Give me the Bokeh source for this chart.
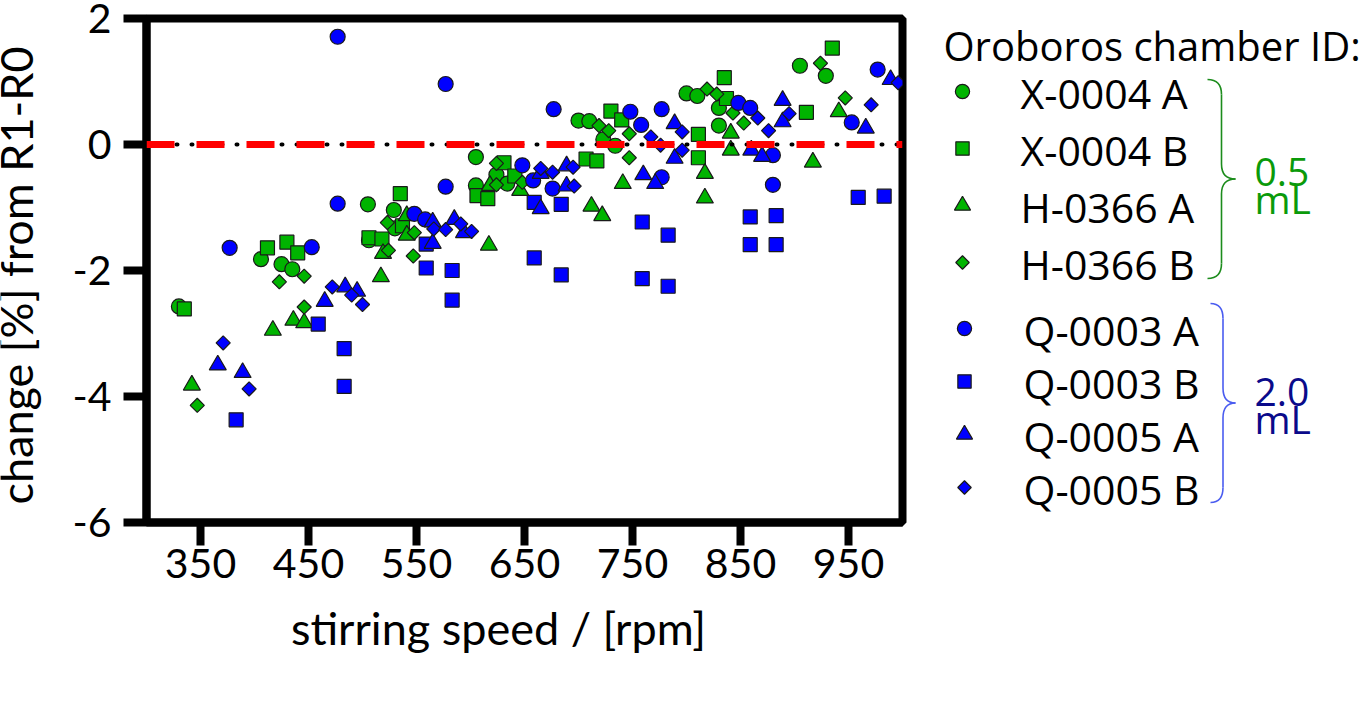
import numpy as np
from bokeh.plotting import figure
from bokeh.models import Range1d, FixedTicker, Span
from bokeh.layouts import row, column
from bokeh.core.properties import value
from bokeh.embed import file_html
from bokeh.resources import INLINE

# 0.5 mL chambers
x0004a_rpm = [330, 406, 425, 435, 505, 506, 529, 530, 605, 605, 624, 634, 700, 710, 723, 734, 800, 810, 830, 830, 905, 929]
x0004a_chg = [-2.57, -1.82, -1.90, -1.98, -0.95, -1.52, -1.04, -1.33, -0.20, -0.65, -0.48, -0.62, 0.38, 0.37, 0.08, -0.02, 0.81, 0.77, 0.58, 0.30, 1.25, 1.09]

x0004b_rpm = [335, 412, 430, 440, 506, 518, 535, 537, 606, 616, 631, 641, 707, 717, 730, 740, 811, 811, 835, 837, 911, 935]
x0004b_chg = [-2.61, -1.64, -1.55, -1.72, -1.48, -1.50, -0.78, -1.29, -0.81, -0.86, -0.29, -0.50, -0.23, -0.26, 0.53, 0.39, 0.16, -0.21, 1.06, 0.73, 0.51, 1.53]

h0366a_rpm = [342, 417, 436, 446, 517, 519, 541, 541, 617, 618, 646, 712, 722, 741, 817, 817, 841, 841, 917, 941]
h0366a_chg = [-3.82, -2.95, -2.79, -2.83, -2.10, -1.73, -1.13, -1.44, -1.60, -0.65, -0.73, -0.98, -1.13, -0.62, -0.46, -0.85, 0.18, -0.09, -0.28, 0.52]

h0366b_rpm = [347, 423, 446, 446, 523, 524, 547, 548, 624, 624, 648, 719, 728, 747, 747, 819, 828, 843, 853, 924, 947]
h0366b_chg = [-4.14, -2.18, -2.09, -2.58, -1.24, -1.68, -1.77, -1.40, -0.30, -0.64, -0.60, 0.30, 0.22, 0.17, -0.21, 0.88, 0.80, 0.50, 0.34, 1.29, 0.74]

# 2.0 mL chambers
q0003a_rpm = [377, 453, 477, 477, 548, 558, 577, 577, 648, 658, 677, 676, 748, 758, 777, 777, 848, 859, 880, 880, 953, 977]
q0003a_chg = [-1.64, -1.63, 1.71, -0.94, -1.10, -1.19, 0.96, -0.67, -0.33, -0.57, 0.56, -0.70, 0.52, 0.31, 0.56, -0.52, 0.66, 0.58, -0.17, -0.64, 0.35, 1.19]

q0003b_rpm = [383, 459, 483, 483, 559, 559, 583, 583, 659, 659, 684, 684, 759, 759, 783, 783, 859, 859, 883, 883, 959, 983]
q0003b_chg = [-4.37, -2.85, -3.24, -3.84, -1.58, -1.96, -2.00, -2.47, -0.92, -1.80, -0.95, -2.07, -1.23, -2.13, -1.44, -2.25, -1.15, -1.59, -1.13, -1.59, -0.84, -0.82]

q0005a_rpm = [366, 389, 465, 484, 495, 565, 565, 585, 594, 665, 665, 689, 689, 760, 771, 789, 789, 860, 870, 889, 889, 966, 989]
q0005a_chg = [-3.50, -3.62, -2.49, -2.26, -2.33, -1.23, -1.57, -1.19, -1.40, -0.46, -1.02, -0.34, -0.66, -0.48, -0.62, 0.33, -0.22, -0.09, -0.19, 0.70, 0.36, 0.26, 1.03]

q0005b_rpm = [371, 395, 472, 490, 500, 566, 577, 591, 601, 665, 676, 695, 696, 767, 776, 796, 796, 866, 876, 895, 971, 996]
q0005b_chg = [-3.15, -3.88, -2.26, -2.39, -2.54, -1.34, -1.35, -1.26, -1.38, -0.38, -0.44, -0.36, -0.66, 0.12, -0.01, 0.20, -0.09, 0.42, 0.22, 0.49, 0.63, 0.98]

labels = ["X-0004 A", "X-0004 B", "H-0366 A", "H-0366 B",
          "Q-0003 A", "Q-0003 B", "Q-0005 A", "Q-0005 B"]
rpms = [x0004a_rpm, x0004b_rpm, h0366a_rpm, h0366b_rpm,
        q0003a_rpm, q0003b_rpm, q0005a_rpm, q0005b_rpm]
chgs = [x0004a_chg, x0004b_chg, h0366a_chg, h0366b_chg,
        q0003a_chg, q0003b_chg, q0005a_chg, q0005b_chg]

x_ticks = [350, 450, 550, 650, 750, 850, 950]
y_ticks = [-6, -4, -2, 0, 2]
volumes = ["0.5", "2.0"]

GREEN = "#00b400"
BLUE = "#0000ff"
colors = [GREEN] * 4 + [BLUE] * 4
# marker, size, angle  (diamond = rotated square)
shapes = [("circle", 15, 0), ("square", 14, 0), ("triangle", 17, 0), ("square", 10, np.pi / 4)] * 2

AX_FONT = "Lato"
LEG_FONT = "Open Sans"
H = 715        # total height
HP = 607       # height of the plot itself, the x title strip sits below it


def blank(width, height):
    f = figure(width=width, height=height, x_range=Range1d(0, width), y_range=Range1d(height, 0),
               output_backend="svg", toolbar_location=None, x_axis_type=None, y_axis_type=None,
               min_border=0, outline_line_color=None)
    f.frame_align = False
    f.grid.visible = False
    return f


# y axis title in its own narrow strip so it can sit far from the tick labels
yl = blank(50, H)
yl.text(x=[15], y=[275], text=["change [%] from R1-R0"], angle=np.pi / 2,
        text_font=value(AX_FONT), text_font_size="45px", text_align="center",
        text_baseline="middle", text_color="black")

p = figure(width=868, height=HP, x_range=Range1d(300, 1000), y_range=Range1d(-6, 2),
           output_backend="svg", toolbar_location=None,
           min_border_left=96, min_border_right=16, min_border_top=18, min_border_bottom=HP - 18 - 504)
p.frame_align = False
p.grid.visible = False
p.outline_line_color = "black"
p.outline_line_width = 8
p.xaxis.ticker = FixedTicker(ticks=x_ticks)
p.yaxis.ticker = FixedTicker(ticks=y_ticks)
p.yaxis.major_label_overrides = {v: str(v) for v in y_ticks}
for ax in p.axis:
    ax.axis_line_width = 8
    ax.axis_line_color = "black"
    ax.major_tick_line_width = 8
    ax.major_tick_in = 0
    ax.major_tick_out = 23
    ax.minor_tick_line_color = None
    ax.major_label_text_font = AX_FONT
    ax.major_label_text_font_size = "41px"
    ax.major_label_text_color = "black"
p.xaxis.major_label_standoff = 3
p.yaxis.major_label_standoff = 12

# zero reference: black dots under red dashes
p.add_layout(Span(location=0, dimension="width", line_color="black", line_width=4,
                  line_dash="1 14", line_cap="round"))
p.add_layout(Span(location=0, dimension="width", line_color="#ff0000", line_width=7,
                  line_dash="28 22"))

for lab, xs, ys, col, (mk, sz, ang) in zip(labels, rpms, chgs, colors, shapes):
    p.scatter(x=xs, y=ys, marker=mk, size=sz, angle=ang, fill_color=col,
              line_color="#1a1a1a", line_width=1.2)

# x axis title strip
xl = blank(868, H - HP)
xl.text(x=[448], y=[627 - HP], text=["stirring speed / [rpm]"], text_font=value(AX_FONT),
        text_font_size="45px", text_align="center", text_baseline="alphabetic",
        text_color="black")

# legend panel
q = blank(450, H)
q.text(x=[25], y=[45], text=["Oroboros chamber ID:"], text_font=value(LEG_FONT),
       text_font_size="40px", text_baseline="alphabetic", text_color="black")

row_y = [91 + 57 * i for i in range(4)] + [328 + 53 * i for i in range(4)]
mark_x = [44] * 4 + [46] * 4
text_x = [102] * 4 + [105] * 4
for i, (lab, col, (mk, sz, ang)) in enumerate(zip(labels, colors, shapes)):
    q.scatter(x=[mark_x[i]], y=[row_y[i]], marker=mk, size=sz * 0.95, angle=-ang,
              fill_color=col, line_color="#1a1a1a", line_width=1.2)
    q.text(x=[text_x[i]], y=[row_y[i] + 1], text=[lab], text_font=value(LEG_FONT),
           text_font_size="41px", text_baseline="middle", text_color="black")


def brace(fig, x0, top, bottom, color, depth=30, r=15):
    x1 = x0 + depth / 2
    x2 = x0 + depth
    mid = (top + bottom) / 2
    fig.quadratic(x0=[x0, x1, x2, x1], y0=[top, mid - r, mid, bottom - r],
                  x1=[x1, x2, x1, x0], y1=[top + r, mid, mid + r, bottom],
                  cx=[x1, x1, x1, x1], cy=[top, mid, mid, bottom],
                  line_color=color, line_width=1.6)
    fig.segment(x0=[x1, x1], y0=[top + r, mid + r], x1=[x1, x1], y1=[mid - r, bottom - r],
                line_color=color, line_width=1.6)


brace(q, 289, 79, 278, "#1c8c1c", depth=28)
brace(q, 292, 303, 502, "#4a5cf0", depth=25)

q.text(x=[336, 336], y=[171, 198], text=[volumes[0], "mL"], text_font=value(LEG_FONT),
       text_font_size="39px", text_baseline="alphabetic", text_color="#0a9a0a")
q.text(x=[336, 336], y=[391, 418], text=[volumes[1], "mL"], text_font=value(LEG_FONT),
       text_font_size="39px", text_baseline="alphabetic", text_color="#0a0a8a")

layout = row(yl, column(p, xl), q)
open("out.html", "w").write(file_html(layout, INLINE))
